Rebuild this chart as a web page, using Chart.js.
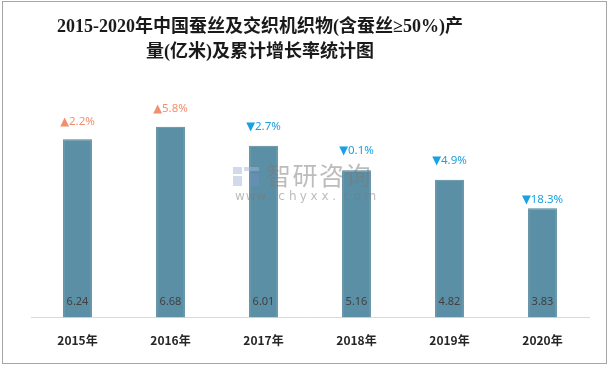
<!DOCTYPE html>
<html>
<head>
<meta charset="utf-8">
<script src="https://cdn.jsdelivr.net/npm/chart.js@4.4.1/dist/chart.umd.min.js"></script>
<style>
  html, body { margin: 0; padding: 0; background: #fff; }
  #wrap { position: relative; width: 611px; height: 368px; }
</style>
</head>
<body>
<div id="wrap"><canvas id="silk" width="611" height="368"></canvas></div>
<script>
// data
const years = ['2015年', '2016年', '2017年', '2018年', '2019年', '2020年'];
const output = [6.24, 6.68, 6.01, 5.16, 4.82, 3.83];      // 亿米
const growth = [2.2, 5.8, -2.7, -0.1, -4.9, -18.3];       // 累计增长率 %

const titleLines = ['2015-2020年中国蚕丝及交织机织物(含蚕丝≥50%)产', '量(亿米)及累计增长率统计图'];

// title, frame and watermark
const decor = {
  id: 'decor',
  afterDraw(chart) {
    const c = chart.ctx;
    c.save();
    // watermark, over the bars
    c.globalAlpha = 0.5;
    c.fillStyle = '#9fb5d6';
    c.fillRect(233, 167, 9, 7);
    c.fillRect(244, 167, 15, 4);
    c.fillRect(233, 176, 9, 10);
    c.fillStyle = '#6d8fc0';
    c.fillRect(250, 174, 9, 12);
    c.fillStyle = '#7a7a7a';
    c.font = '25px "Noto Sans CJK SC"';
    c.textBaseline = 'middle';
    c.textAlign = 'left';
    const logo = '智研咨询';
    for (let i = 0; i < logo.length; i++) c.fillText(logo[i], 266 + i * 26.5, 175);
    c.font = '12px "DejaVu Sans"';
    const w = 'www.chyxx.com';
    for (let i = 0; i < w.length; i++) c.fillText(w[i], 235 + i * 10.8, 197);
    c.globalAlpha = 1;

    c.strokeStyle = '#a6a6a6';
    c.lineWidth = 1;
    c.strokeRect(2.5, 1.5, 604, 362);
    c.fillStyle = '#1a1a1a';
    c.font = 'bold 18px "Liberation Serif", "Noto Sans CJK SC"';
    c.textAlign = 'center';
    c.textBaseline = 'middle';
    c.fillText(titleLines[0], 260, 27);
    c.fillText(titleLines[1], 260, 52);
    c.restore();
  }
};

// growth marks above bars, values at the bar foot
const barLabels = {
  id: 'barLabels',
  afterDatasetsDraw(chart) {
    const c = chart.ctx;
    const meta = chart.getDatasetMeta(0);
    const lift = [18, 18, 19, 19, 19, 8];
    c.save();
    c.textAlign = 'center';
    c.textBaseline = 'middle';
    meta.data.forEach((bar, i) => {
      const g = growth[i];
      c.font = '11.5px "Noto Sans", "DejaVu Sans"';
      c.fillStyle = g >= 0 ? '#f0906f' : '#1ba1e2';
      const txt = (g >= 0 ? '▲' : '▼') + Math.abs(g).toFixed(1) + '%';
      c.fillText(txt, bar.x, bar.y - lift[i]);
      c.font = '11px "Noto Sans", "DejaVu Sans"';
      c.fillStyle = '#404040';
      c.fillText(output[i].toFixed(2), bar.x, bar.base - 16);
    });
    c.restore();
  }
};

new Chart(document.getElementById('silk'), {
  type: 'bar',
  data: {
    labels: years,
    datasets: [{
      label: '产量(亿米)',
      data: output,
      backgroundColor: '#5b8fa6',
      borderColor: '#4f8299',
      borderWidth: 1,
      categoryPercentage: 1,
      barPercentage: 0.31
    }]
  },
  options: {
    responsive: false,
    animation: false,
    layout: { padding: { left: 31, right: 22, top: 89, bottom: 4 } },
    plugins: {
      legend: { display: false },
      title: { display: false },
      tooltip: { enabled: false }
    },
    scales: {
      x: {
        grid: { display: false, drawTicks: false },
        border: { color: '#d9d9d9' },
        ticks: {
          color: '#262626',
          padding: 16,
          font: { size: 12, weight: 'bold', family: '"Noto Sans CJK SC", "Noto Sans"' }
        }
      },
      y: { display: false, min: 0, max: 8 }
    }
  },
  plugins: [barLabels, decor]
});
</script>
</body>
</html>
